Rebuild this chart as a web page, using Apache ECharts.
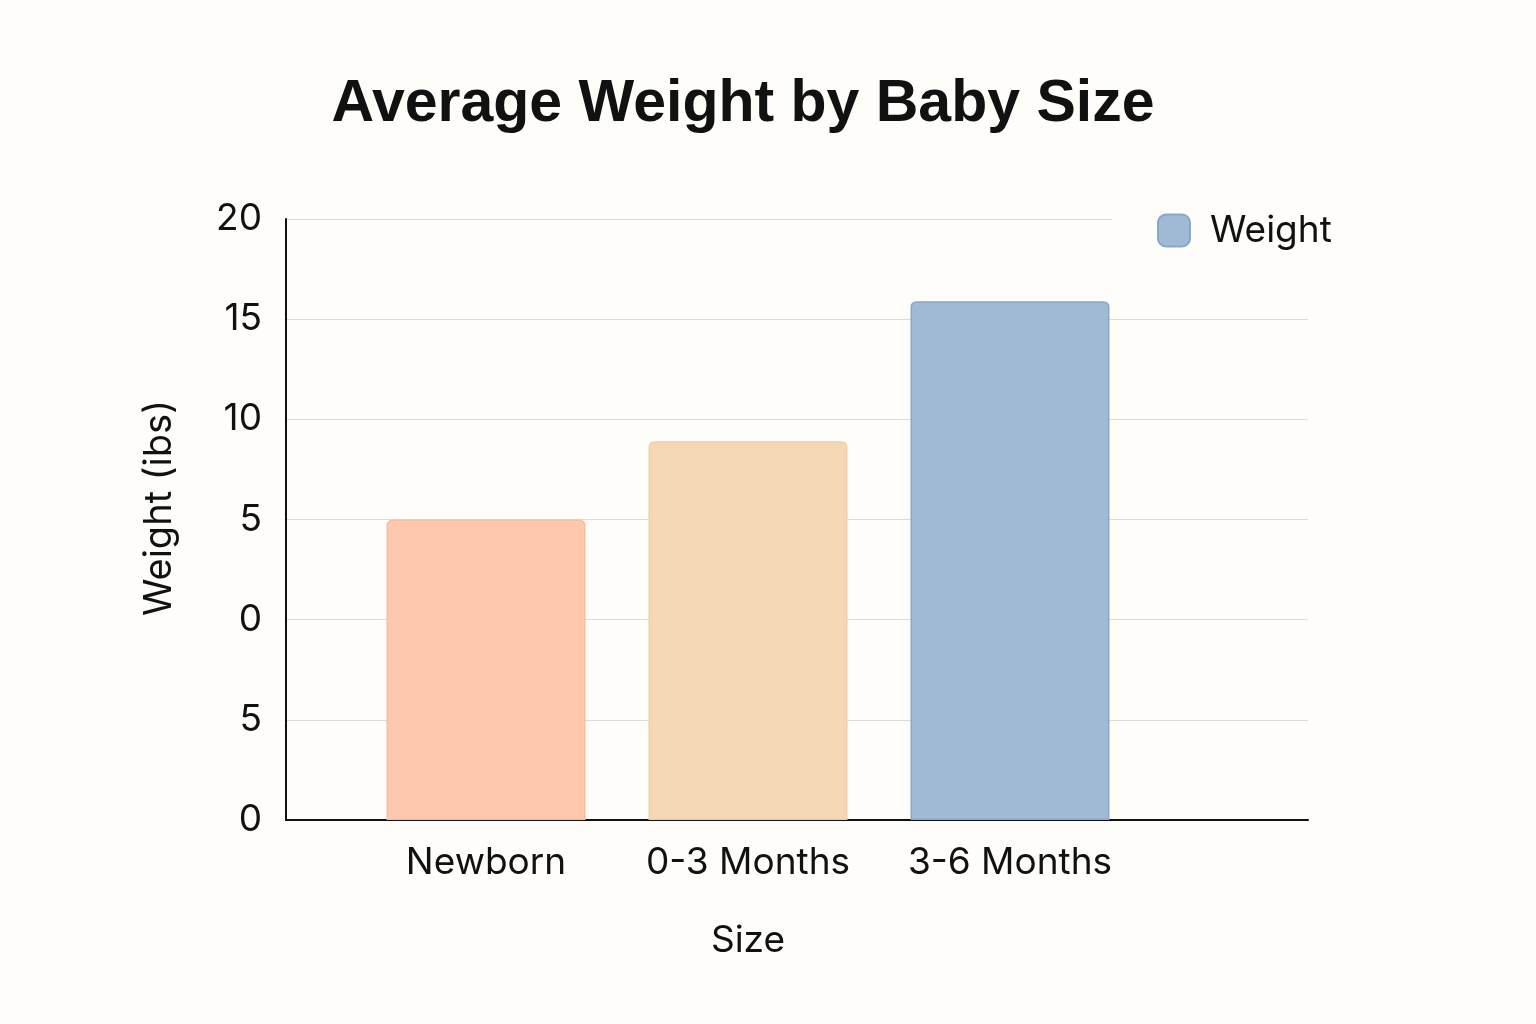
<!DOCTYPE html>
<html>
<head>
<meta charset="utf-8">
<script src="https://cdn.jsdelivr.net/npm/echarts@6/dist/echarts.min.js"></script>
<style>
html,body{margin:0;padding:0;background:#fefdf9;}
#chart{width:1536px;height:1024px;}
</style>
</head>
<body>
<div id="chart"></div>
<script>
// Data (values in the axis' plotted units, 0..30)
const categories = ['Newborn', '0-3 Months', '3-6 Months'];
const weightValues = [15, 18.9, 25.9];
// Tick labels as printed on the reference, bottom to top
const yTickLabels = ['0', '5', '0', '5', '10', '15', '20'];
const barColors = ['#fdc8ae', '#f4d8b5', '#a0bad6'];
const barBorders = ['#f8bca0', '#edcda6', '#89a7c9'];

const chart = echarts.init(document.getElementById('chart'));
const font = 'Inter, Roboto, "Noto Sans", sans-serif';

chart.setOption({
  backgroundColor: '#fefdf9',
  animation: false,
  title: {
    text: 'Average Weight by Baby Size',
    left: 738, top: 70, textAlign: 'center',
    textStyle: { fontFamily: '"Liberation Sans", Arial, sans-serif', fontWeight: 'bold', fontSize: 59, color: '#111' }
  },
  legend: {
    data: ['Weight'],
    left: 1112, top: 204,
    padding: [8, 30, 6, 45],
    backgroundColor: '#fefdf9',
    itemWidth: 32, itemHeight: 32, itemGap: 10,
    icon: 'roundRect',
    textStyle: { fontFamily: font, fontSize: 37, color: '#111', padding: [0, 0, 0, 15] }
  },
  graphic: [{
    type: 'text', x: 160, y: 508, rotation: Math.PI / 2,
    style: {
      text: 'Weight (ibs)', fontFamily: font, fontSize: 38, fill: '#111',
      align: 'center', verticalAlign: 'middle'
    }
  }],
  grid: [
    { left: 286, right: 228, top: 219, bottom: 204 },
    { left: 355, right: 395, top: 219, bottom: 204 }
  ],
  xAxis: [
    {
      gridIndex: 0, type: 'category', data: categories,
      axisLine: { lineStyle: { color: '#111', width: 2 } },
      axisTick: { show: false }, axisLabel: { show: false }
    },
    {
      gridIndex: 1, type: 'category', data: categories,
      axisLine: { show: false }, axisTick: { show: false },
      axisLabel: { interval: 0, hideOverlap: false, fontFamily: font, fontSize: 37, color: '#111', margin: 24 },
      name: 'Size', nameLocation: 'middle', nameGap: 102,
      nameTextStyle: { fontFamily: font, fontSize: 37, color: '#111' }
    }
  ],
  yAxis: [
    {
      gridIndex: 0, type: 'value', min: 0, max: 30, interval: 5,
      axisLine: { show: true, lineStyle: { color: '#111', width: 2 } },
      axisTick: { show: false },
      splitLine: { lineStyle: { color: '#dcdcdc', width: 1 } },
      axisLabel: {
        fontFamily: font, fontSize: 37, color: '#111', margin: 24,
        formatter: function (v) { return yTickLabels[Math.round(v / 5)]; }
      }
    },
    {
      gridIndex: 1, type: 'value', min: 0, max: 30, interval: 5, show: false
    }
  ],
  series: [{
    name: 'Weight', type: 'bar', xAxisIndex: 1, yAxisIndex: 1,
    barWidth: 199,
    itemStyle: { color: barColors[2], borderColor: barBorders[2], borderWidth: 1.5, borderRadius: [5, 5, 0, 0] },
    data: weightValues.map(function (v, i) {
      return { value: v, itemStyle: { color: barColors[i], borderColor: barBorders[i], borderWidth: 1.5, borderRadius: [5, 5, 0, 0] } };
    })
  }]
});
</script>
</body>
</html>
